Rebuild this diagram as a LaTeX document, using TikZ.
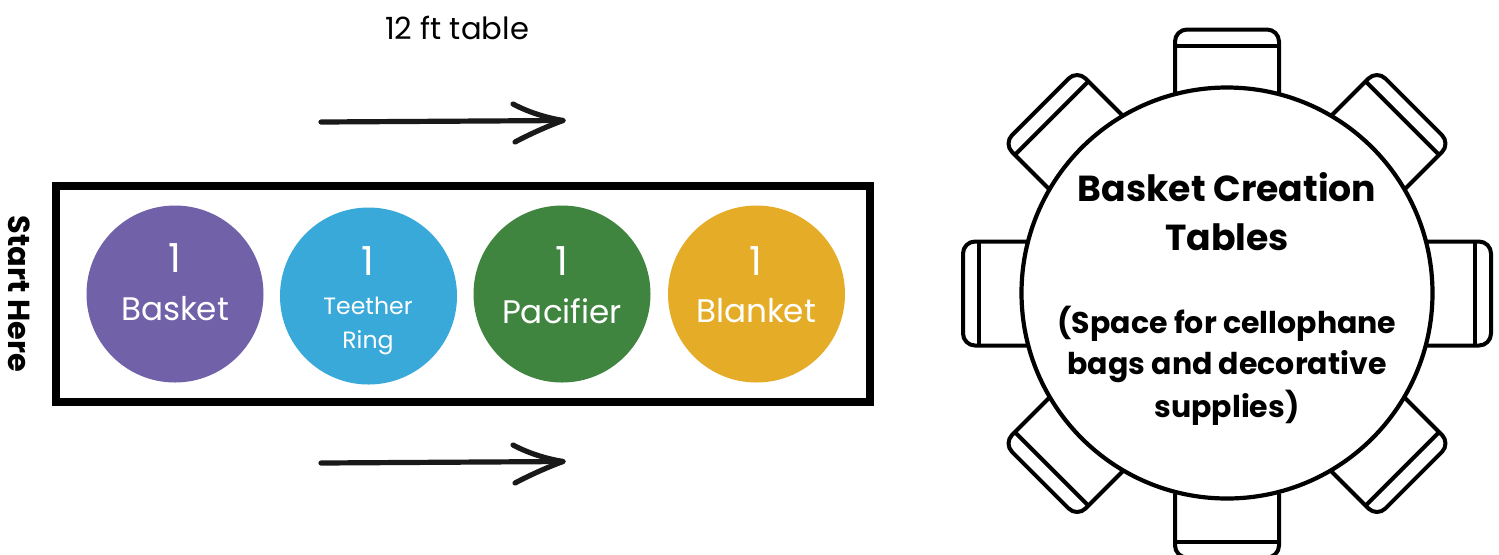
\documentclass[tikz,border=0pt]{standalone}
\usepackage{fontspec}
\setmainfont{Poppins}
\newfontfamily\boldf{Poppins}[UprightFont=* Bold,BoldFont=* Bold]
\tikzset{
  px/.style={x=0.5pt,y=-0.5pt},
  frame/.style={draw=black,line width=4pt,fill=white},
  disc/.style={circle,minimum size=88.5pt,inner sep=0pt,draw=none},
  num/.style={text=white,font=\fontsize{20}{22}\selectfont,inner sep=0pt},
  lab/.style={text=white,font=\fontsize{16.3}{18}\selectfont,inner sep=0pt},
  slab/.style={text=white,font=\fontsize{11.8}{13}\selectfont,inner sep=0pt},
  head/.style={font=\boldf\fontsize{18.1}{22}\selectfont,inner sep=0pt},
  sub/.style={font=\boldf\fontsize{15}{18}\selectfont,inner sep=0pt},
  plain/.style={font=\fontsize{15.3}{18}\selectfont,inner sep=0pt},
  seat/.style={draw=black,line width=2pt,line join=round},
  tabletop/.style={circle,draw=black,line width=2.1pt,fill=white,minimum size=205.5pt,inner sep=0pt},
  penline/.style={draw=black!90,line width=2.6pt,line cap=round,line join=round},
}
\newcommand{\chairat}[1]{%
  \begin{scope}[shift={(1227,293.5)},rotate=#1]
    \draw[seat,fill=white] (-52,-200) -- (-52,-235) [rounded corners=6pt] -- (-52,-264) -- (52,-264) -- (52,-235) [sharp corners] -- (52,-200);
    \draw[seat] (-52,-248) -- (52,-248);
  \end{scope}}
\begin{document}
\begin{tikzpicture}[px]
\useasboundingbox (0,0) rectangle (1499,554);
% left table
\node[frame,minimum width=407pt,minimum height=108pt,inner sep=0pt] (tbl) at (463,294) {};
\node[disc,fill={rgb,255:red,112;green,97;blue,168}] (c1) at (175,294) {};
\node[disc,fill={rgb,255:red,56;green,169;blue,216}] (c2) at (368.5,296) {};
\node[disc,fill={rgb,255:red,64;green,133;blue,63}] (c3) at (562,294) {};
\node[disc,fill={rgb,255:red,229;green,172;blue,40}] (c4) at (756.5,294) {};
\node[num] (n1) at (174.5,258) {1};
\node[lab] (t1) at (175,309) {Basket};
\node[num] (n2) at (368,261) {1};
\node[slab] (t2a) at (368,305.5) {Teether};
\node[slab] (t2b) at (368,342.5) {Ring};
\node[num] (n3) at (561.5,261) {1};
\node[lab] (t3) at (562,311) {Pacifier};
\node[num] (n4) at (755.5,261) {1};
\node[lab] (t4) at (756,311) {Blanket};
\node[plain] (title) at (457,28) {12 ft table};
\node[rotate=-90,inner sep=0pt,font=\boldf\fontsize{15.2}{16}\selectfont] (start) at (19,294) {Start Here};
% arrows
\coordinate (a1s) at (321,122); \coordinate (a1e) at (563,120.5);
\coordinate (a1u) at (513,104); \coordinate (a1d) at (515,142);
\coordinate (a2s) at (321,463); \coordinate (a2e) at (563,461.5);
\coordinate (a2u) at (513,445); \coordinate (a2d) at (515,483);
\draw[penline] (a1s) -- (a1e);
\draw[penline] (a1u) .. controls (530,113) and (548,118) .. (a1e) .. controls (548,126) and (530,134) .. (a1d);
\draw[penline] (a2s) -- (a2e);
\draw[penline] (a2u) .. controls (530,454) and (548,459) .. (a2e) .. controls (548,467) and (530,475) .. (a2d);
% chairs
\foreach \a in {0,45,...,315} {\chairat{\a}}
\node[tabletop] (round) at (1227,293) {};
\node[head] (h1) at (1227,187) {Basket Creation};
\node[head] (h2) at (1227,237) {Tables};
\node[sub] (s1) at (1227,324) {(Space for cellophane};
\node[sub] (s2) at (1227,366.5) {bags and decorative};
\node[sub] (s3) at (1227,408) {supplies)};
\end{tikzpicture}
\end{document}
